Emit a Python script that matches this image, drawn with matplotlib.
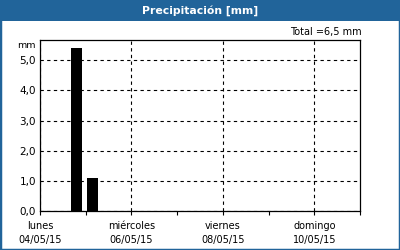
from datetime import datetime, timedelta

import matplotlib
matplotlib.use("Agg")
import matplotlib.pyplot as plt
from matplotlib.patches import Rectangle

TITLE = "Precipitación [mm]"
TOTAL = "Total =6,5 mm"
BLUE = "#21649a"

# bars: start time, value in mm
bar_times = [datetime(2015, 5, 4, 16, 20), datetime(2015, 5, 5, 0, 30)]
bar_values = [5.4, 1.1]
bar_width = timedelta(hours=5.8)

start = datetime(2015, 5, 4)
end = datetime(2015, 5, 11)
day_names = ["lunes", "martes", "miércoles", "jueves", "viernes",
             "sábado", "domingo", "lunes"]

y_ticks = [0, 1, 2, 3, 4, 5]
y_labels = ["0,0", "1,0", "2,0", "3,0", "4,0", "5,0"]


def main():
    fig = plt.figure(figsize=(4, 2.5), dpi=100)
    fig.patch.set_facecolor("white")

    # blue frame and title bar
    fig.patches.append(Rectangle((0, 0), 1, 1, transform=fig.transFigure,
                                 fill=False, edgecolor=BLUE, linewidth=2.5))
    fig.patches.append(Rectangle((0, 1 - 21 / 250), 1, 21 / 250,
                                 transform=fig.transFigure,
                                 facecolor=BLUE, edgecolor="none"))
    fig.text(0.5, 1 - 10.5 / 250, TITLE, color="white", fontsize=7.8,
             fontweight="bold", ha="center", va="center")

    ax = fig.add_axes([40 / 400, 39 / 250, 320 / 400, 171 / 250])
    ax.bar(bar_times, bar_values, width=bar_width, align="edge",
           color="black", zorder=3)

    ax.set_xlim(start, end)
    ax.set_ylim(0, max(bar_values) * 1.05)

    days = [start + timedelta(days=i) for i in range(8)]
    major = days[0:7:2]
    ax.set_xticks(major)
    ax.set_xticklabels([f"{day_names[i]}\n{d:%d/%m/%y}"
                        for i, d in zip(range(0, 7, 2), major)],
                       fontsize=7, linespacing=1.5)
    ax.set_xticks(days[1::2], minor=True)
    ax.tick_params(axis="x", which="both", length=3, width=0.8,
                   direction="out", pad=4)

    ax.set_yticks(y_ticks)
    ax.set_yticklabels(y_labels, fontsize=7.5)
    ax.tick_params(axis="y", length=0, pad=3)

    ax.grid(True, which="major", linestyle=(0, (3, 3)), color="black",
            linewidth=0.8, zorder=1)

    for spine in ax.spines.values():
        spine.set_linewidth(0.9)

    fig.text(36 / 400, 1 - 46 / 250, "mm", fontsize=6.8, ha="right",
             va="center")
    fig.text(362 / 400, 1 - 32 / 250, TOTAL, fontsize=7, ha="right",
             va="center")

    fig.savefig("out.png", dpi=100)


if __name__ == "__main__":
    main()
